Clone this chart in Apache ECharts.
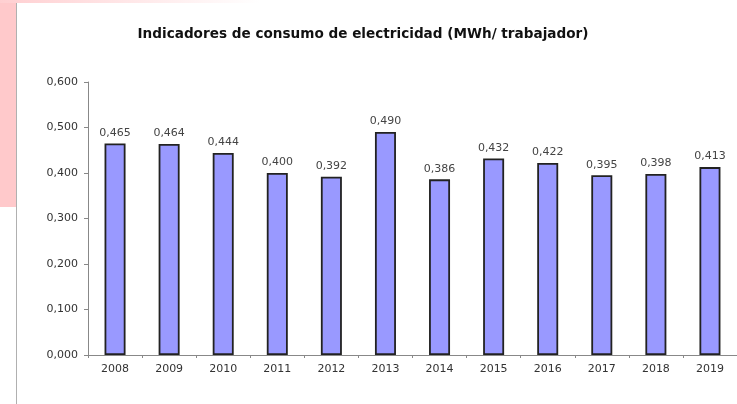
<!DOCTYPE html>
<html>
<head>
<meta charset="utf-8">
<script src="https://cdn.jsdelivr.net/npm/echarts@6/dist/echarts.min.js"></script>
<style>
html,body{margin:0;padding:0;background:#fff;}
#c{width:737px;height:404px;}
</style>
</head>
<body>
<div id="c"></div>
<script>
const titleText = 'Indicadores de consumo de electricidad (MWh/ trabajador)';
const years = ['2008','2009','2010','2011','2012','2013','2014','2015','2016','2017','2018','2019'];
const values = [0.465,0.464,0.444,0.400,0.392,0.490,0.386,0.432,0.422,0.395,0.398,0.413];
const fmt = v => Number(v).toFixed(3).replace('.', ',');

const chart = echarts.init(document.getElementById('c'), null, {renderer:'canvas'});
chart.setOption({
  backgroundColor:'#fff',
  animation:false,
  graphic:[
    {type:'rect', shape:{x:0,y:0,width:16,height:207}, style:{fill:'#ffc9cb'}, silent:true},
    {type:'rect', shape:{x:0,y:0,width:260,height:3}, style:{fill:new echarts.graphic.LinearGradient(0,0,1,0,[{offset:0,color:'#ffcfd1'},{offset:1,color:'#ffffff'}])}, silent:true},
    {type:'rect', shape:{x:16,y:3,width:1,height:401}, style:{fill:'#b0b0b0'}, silent:true}
  ],
  title:{
    text:titleText, left:358, top:22, textAlign:'center',
    textStyle:{fontFamily:'DejaVu Sans', fontSize:13.6, fontWeight:'bold', color:'#111'}
  },
  grid:{left:88, top:82, width:650, height:273, containLabel:false},
  xAxis:{
    type:'category', data:years,
    axisLine:{lineStyle:{color:'#888', width:1}},
    axisTick:{show:true, alignWithLabel:false, length:3, lineStyle:{color:'#888'}},
    axisLabel:{fontFamily:'DejaVu Sans', fontSize:11, color:'#333', margin:9}
  },
  yAxis:{
    type:'value', min:0, max:0.6, interval:0.1,
    splitLine:{show:false},
    axisLine:{show:true, lineStyle:{color:'#888', width:1}},
    axisTick:{show:true, length:4, lineStyle:{color:'#888'}},
    axisLabel:{fontFamily:'DejaVu Sans', fontSize:11, color:'#333', margin:10, formatter:fmt}
  },
  series:[{
    type:'bar', data:values, barWidth:21,
    itemStyle:{color:'#9999ff', borderColor:'#222', borderWidth:1.8},
    label:{show:true, position:'top', distance:5, formatter:p=>fmt(p.value),
      fontFamily:'DejaVu Sans', fontSize:11, color:'#444'}
  }]
});
</script>
</body>
</html>
